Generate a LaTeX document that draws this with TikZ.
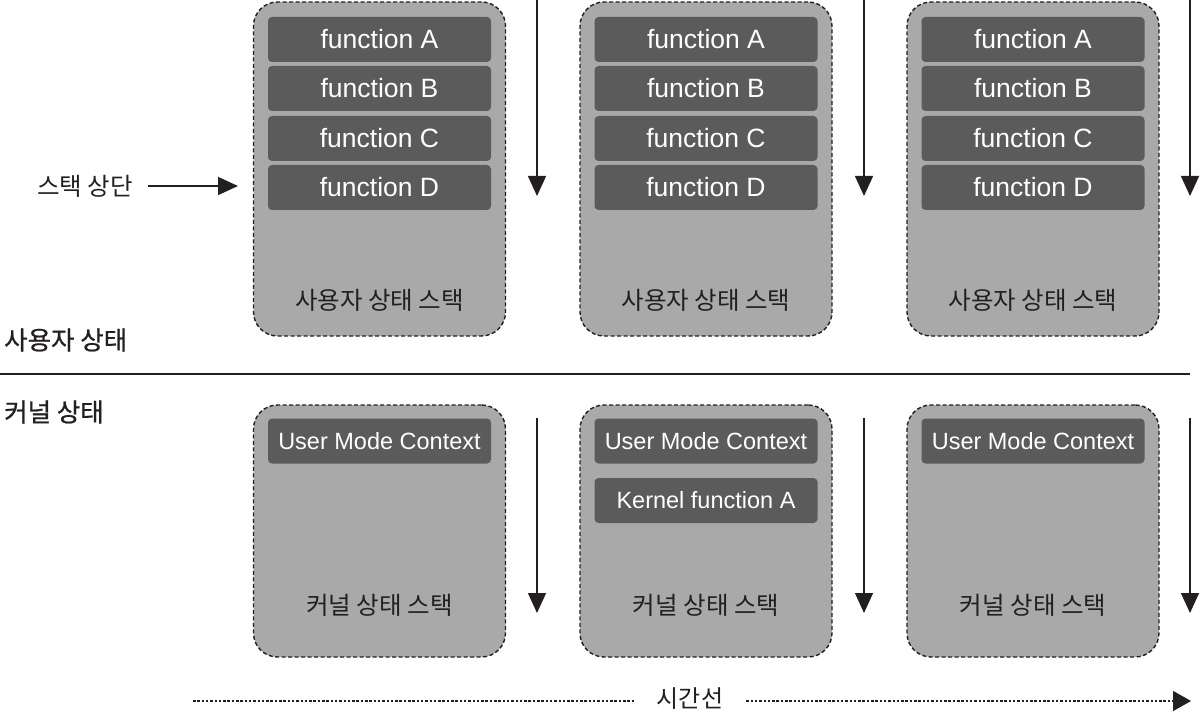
\documentclass[tikz,border=0pt]{standalone}
\usepackage{fontspec}
\setmainfont{Liberation Sans}
\newfontfamily\kr{Noto Sans CJK KR}
\newfontfamily\krb[FakeBold=0.8]{Noto Sans CJK KR}
\usetikzlibrary{arrows.meta}
\definecolor{boxgray}{HTML}{A9A9A9}
\definecolor{bargray}{HTML}{5B5B5B}
\definecolor{ink}{HTML}{231F20}
\tikzset{
  stackbox/.style={draw=ink, line width=1.4pt, dash pattern=on 4pt off 2.5pt, fill=boxgray,
    rounded corners=24pt, minimum width=252pt, inner sep=0pt},
  userbox/.style={stackbox, minimum height=334pt},
  kernbox/.style={stackbox, minimum height=252pt},
  bar/.style={fill=bargray, rounded corners=4pt, minimum width=223pt, minimum height=45pt,
    inner sep=0pt, text=white, font=\fontsize{23.5}{24}\selectfont},
  funcbar/.style={bar, font=\fontsize{26.5}{27}\selectfont},
  boxlabel/.style={text=ink, font=\kr\fontsize{24.5}{26}\selectfont, inner sep=0pt},
  sidelabel/.style={text=ink, font=\krb\fontsize{25.5}{26}\selectfont, inner sep=0pt, anchor=west},
  flow/.style={draw=ink, line width=1.4pt, -{Triangle[width=18pt,length=20pt]}},
  timeline/.style={draw=ink, line width=1.3pt, dash pattern=on 2.5pt off 1.8pt},
}
\begin{document}
\begin{tikzpicture}[x=1pt,y=-1pt]
\useasboundingbox (0,0) rectangle (1200,714);

% user-mode stacks
\foreach \i/\cx in {1/379.5, 2/706, 3/1033}{
  \node[userbox] (u\i) at (\cx,169) {};
  \node[funcbar] (u\i a) at (\cx,39.5) {function A};
  \node[funcbar] (u\i b) at (\cx,88.5) {function B};
  \node[funcbar] (u\i c) at (\cx,138.5) {function C};
  \node[funcbar] (u\i d) at (\cx,187.5) {function D};
  \node[boxlabel] (u\i l) at (\cx,300) {사용자 상태 스택};
}
% kernel-mode stacks
\foreach \i/\cx in {1/379.5, 2/706, 3/1033}{
  \node[kernbox] (k\i) at (\cx,531) {};
  \node[bar] (k\i u) at (\cx,441) {User Mode Context};
  \node[boxlabel] (k\i l) at (\cx,605) {커널 상태 스택};
}
\node[bar] (k2k) at (706,500.5) {Kernel function A};

% time arrows beside each stack
\foreach \i/\ax in {1/537, 2/864, 3/1190}{
  \coordinate (ut\i) at (\ax,0);
  \coordinate (ub\i) at (\ax,196);
  \coordinate (kt\i) at (\ax,418);
  \coordinate (kb\i) at (\ax,613);
  \draw[flow] (ut\i) -- (ub\i);
  \draw[flow] (kt\i) -- (kb\i);
}

% stack top pointer
\node[text=ink, font=\kr\fontsize{24.5}{26}\selectfont, inner sep=0pt] (top) at (85,186) {스택 상단};
\coordinate (topend) at (238,186);
\draw[flow] (148,186) -- (topend);

% mode labels and divider
\node[sidelabel] (userlbl) at (4,340) {사용자 상태};
\node[sidelabel] (kernlbl) at (4,412) {커널 상태};
\coordinate (divl) at (0,374);
\coordinate (divr) at (1190,374);
\draw[draw=ink, line width=1.3pt] (divl) -- (divr);

% timeline
\node[text=ink, font=\kr\fontsize{24}{24}\selectfont, inner sep=0pt] (time) at (690,699) {시간선};
\coordinate (tstart) at (193,701);
\coordinate (tend) at (1191,701);
\draw[timeline] (tstart) -- ([xshift=-21pt]time.west |- tstart);
\draw[timeline, -{Triangle[width=20pt,length=18pt]}] ([xshift=23pt]time.east |- tstart) -- (tend);
\end{tikzpicture}
\end{document}
